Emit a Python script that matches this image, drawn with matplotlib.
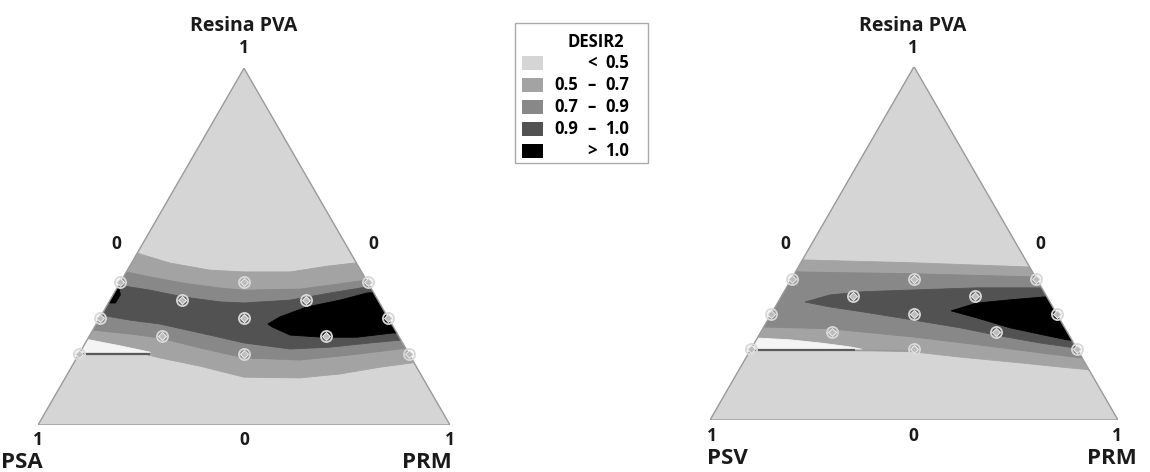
import numpy as np
import matplotlib
matplotlib.use("Agg")
import matplotlib.pyplot as plt
from matplotlib.patches import Polygon, Rectangle

plt.rcParams['font.family'] = ['Open Sans', 'DejaVu Sans']

# ---------------- data ----------------
# design points (mixture compositions, constrained region 0.2 <= PVA <= 0.4)
design_pva = [0.40, 0.40, 0.40, 0.35, 0.35, 0.30, 0.30, 0.30, 0.25, 0.25, 0.20, 0.20, 0.20]
design_prm = [0.00, 0.30, 0.60, 0.175, 0.475, 0.00, 0.35, 0.70, 0.175, 0.575, 0.00, 0.40, 0.80]

legend_title = "DESIR2"
legend_low = ["", "0.5", "0.7", "0.9", ""]
legend_op = ["<", "\u2013", "\u2013", "\u2013", ">"]
legend_high = ["0.5", "0.7", "0.9", "1.0", "1.0"]
level_colors = ["#d5d5d5", "#a3a3a3", "#888888", "#525252", "#000000"]

# contour boundaries: (horizontal position along base, PVA)
# ---- left plot (PSA / PRM) ----
L_top_05 = [(0.199, 0.482), (0.240, 0.482), (0.320, 0.454), (0.417, 0.434), (0.500, 0.429),
            (0.612, 0.429), (0.701, 0.445), (0.769, 0.454), (0.830, 0.457)]
L_bot_05 = [(0.053, 0.202), (0.109, 0.202), (0.248, 0.202), (0.296, 0.188), (0.393, 0.165),
            (0.500, 0.134), (0.636, 0.132), (0.733, 0.143), (0.830, 0.162), (0.908, 0.174),
            (0.951, 0.182)]
L_top_07 = [(0.150, 0.434), (0.214, 0.429), (0.272, 0.415), (0.352, 0.398), (0.442, 0.384),
            (0.500, 0.378), (0.636, 0.381), (0.709, 0.392), (0.796, 0.406), (0.854, 0.412)]
L_bot_07 = [(0.078, 0.266), (0.133, 0.266), (0.223, 0.255), (0.296, 0.244), (0.393, 0.216),
            (0.500, 0.188), (0.636, 0.182), (0.757, 0.196), (0.879, 0.213), (0.927, 0.218)]
L_top_09 = [(0.150, 0.395), (0.194, 0.392), (0.272, 0.378), (0.352, 0.359), (0.442, 0.345),
            (0.500, 0.342), (0.612, 0.350), (0.709, 0.370), (0.799, 0.387), (0.854, 0.392)]
L_bot_09 = [(0.102, 0.308), (0.153, 0.308), (0.223, 0.294), (0.296, 0.283), (0.417, 0.252),
            (0.500, 0.230), (0.612, 0.213), (0.709, 0.218), (0.806, 0.230), (0.881, 0.238),
            (0.927, 0.241)]
L_black_a = [(0.558, 0.283), (0.587, 0.303), (0.653, 0.331), (0.733, 0.350), (0.799, 0.370),
             (0.879, 0.375), (0.903, 0.255), (0.862, 0.258), (0.774, 0.246), (0.692, 0.246),
             (0.612, 0.252), (0.568, 0.275)]
L_black_b = [(0.150, 0.389), (0.196, 0.384), (0.200, 0.365), (0.188, 0.342), (0.150, 0.342)]
L_white = [(0.078, 0.247), (0.114, 0.241), (0.150, 0.233), (0.199, 0.222), (0.248, 0.210),
           (0.272, 0.204), (0.272, 0.203), (0.078, 0.203)]
L_line = [(0.05, 0.200), (0.272, 0.200)]

# ---- right plot (PSV / PRM) ----
R_top_05 = [(0.172, 0.456), (0.228, 0.453), (0.498, 0.445), (0.784, 0.433), (0.858, 0.431)]
R_bot_05 = [(0.074, 0.198), (0.355, 0.198), (0.498, 0.193), (0.613, 0.178), (0.767, 0.161),
            (0.858, 0.150), (0.931, 0.142), (0.980, 0.136)]
R_top_07 = [(0.172, 0.422), (0.221, 0.419), (0.498, 0.414), (0.797, 0.405), (0.858, 0.405)]
R_bot_07 = [(0.074, 0.263), (0.135, 0.263), (0.294, 0.258), (0.498, 0.235), (0.662, 0.212),
            (0.809, 0.190), (0.907, 0.176), (0.956, 0.170)]
R_dark = [(0.233, 0.334), (0.294, 0.354), (0.375, 0.363), (0.498, 0.368), (0.654, 0.374),
          (0.801, 0.374), (0.858, 0.374), (0.956, 0.198), (0.895, 0.204), (0.809, 0.218),
          (0.711, 0.238), (0.613, 0.261), (0.498, 0.283), (0.375, 0.306), (0.294, 0.320)]
R_black = [(0.591, 0.309), (0.654, 0.331), (0.735, 0.340), (0.816, 0.348), (0.882, 0.351),
           (0.919, 0.221), (0.875, 0.227), (0.816, 0.241), (0.735, 0.261), (0.654, 0.289)]
R_white = [(0.074, 0.235), (0.115, 0.232), (0.196, 0.227), (0.270, 0.218), (0.343, 0.207),
           (0.373, 0.200), (0.074, 0.200)]
R_line_dark = [(0.05, 0.197), (0.355, 0.197)]
R_line_light = [(0.355, 0.197), (0.500, 0.196)]

H = np.sqrt(3) / 2


def to_xy(pts):
    a = np.asarray(pts, dtype=float)
    return np.column_stack([a[:, 0], a[:, 1] * H])


def band(upper, lower):
    return to_xy(list(upper) + list(lower)[::-1])


W, Hpx = 1150, 472
fig = plt.figure(figsize=(W / 100, Hpx / 100), dpi=100)


def make_ax(left, base, width):
    height = width * H
    ax = fig.add_axes([left / W, (Hpx - base) / Hpx, width / W, height / Hpx])
    ax.set_xlim(0, 1)
    ax.set_ylim(0, H)
    ax.axis('off')
    tri = Polygon([(0, 0), (1, 0), (0.5, H)], closed=True, facecolor=level_colors[0],
                  edgecolor='none', zorder=0)
    ax.add_patch(tri)
    return ax, tri


def add_region(ax, tri, xy, color, z=1):
    p = Polygon(xy, closed=True, facecolor=color, edgecolor=color, lw=0.6, zorder=z)
    ax.add_patch(p)
    p.set_clip_path(tri)


def add_line(ax, tri, pts, color, lw):
    xy = to_xy(pts)
    ln, = ax.plot(xy[:, 0], xy[:, 1], color=color, lw=lw, zorder=5, solid_capstyle='butt')
    ln.set_clip_path(tri)


def finish(ax):
    ax.plot([0, 1, 0.5, 0], [0, 0, H, 0], color='#9a9a9a', lw=1.0, zorder=6)
    pva = np.asarray(design_pva)
    prm = np.asarray(design_prm)
    x = prm + pva / 2
    y = pva * H
    ax.plot(x, y, linestyle='none', marker='o', ms=8, mfc='none', mec='#d8d8d8',
            mew=1.3, zorder=7, clip_on=False)
    ax.plot(x, y, linestyle='none', marker='D', ms=4.5, mfc='#bcbcbc', mec='#e8e8e8',
            mew=0.8, zorder=8, clip_on=False)


# ---------- left ternary ----------
axL, triL = make_ax(38, 425, 412)
add_region(axL, triL, band(L_top_05, L_bot_05), level_colors[1], 1)
add_region(axL, triL, band(L_top_07, L_bot_07), level_colors[2], 2)
add_region(axL, triL, band(L_top_09, L_bot_09), level_colors[3], 3)
add_region(axL, triL, to_xy(L_black_a), level_colors[4], 4)
add_region(axL, triL, to_xy(L_black_b), level_colors[4], 4)
add_region(axL, triL, to_xy(L_white), '#f4f4f4', 4)
add_line(axL, triL, L_line, '#5a5a5a', 1.6)
finish(axL)

# ---------- right ternary ----------
axR, triR = make_ax(710, 420, 408)
add_region(axR, triR, band(R_top_05, R_bot_05), level_colors[1], 1)
add_region(axR, triR, band(R_top_07, R_bot_07), level_colors[2], 2)
add_region(axR, triR, to_xy(R_dark), level_colors[3], 3)
add_region(axR, triR, to_xy(R_black), level_colors[4], 4)
add_region(axR, triR, to_xy(R_white), '#f4f4f4', 4)
add_line(axR, triR, R_line_dark, '#5a5a5a', 1.6)
add_line(axR, triR, R_line_light, '#9a9a9a', 1.2)
finish(axR)


# ---------- labels (pixel positions) ----------
def ftext(x, y, s, size, ha='center', va='center'):
    fig.text(x / W, 1 - y / Hpx, s, fontsize=size, fontweight='bold', ha=ha, va=va,
             color='#1a1a1a')


for cx, l0, r0 in [(244, 116, 373), (913, 785, 1040)]:
    ftext(cx, 26, "Resina PVA", 14)
    ftext(cx, 48, "1", 12.5)
    ftext(l0, 244, "0", 12.5)
    ftext(r0, 244, "0", 12.5)

# bottom labels
ftext(38, 440, "1", 12.5)
ftext(244, 440, "0", 12.5)
ftext(450, 440, "1", 12.5)
ftext(1, 463, "PSA", 16, ha='left')
ftext(452, 463, "PRM", 16, ha='right')
ftext(712, 436, "1", 12.5)
ftext(913, 436, "0", 12.5)
ftext(1117, 436, "1", 12.5)
ftext(707, 458, "PSV", 16, ha='left')
ftext(1137, 458, "PRM", 16, ha='right')

# ---------- legend ----------
axLeg = fig.add_axes([0, 0, 1, 1])
axLeg.set_xlim(0, W)
axLeg.set_ylim(Hpx, 0)
axLeg.axis('off')
axLeg.patch.set_alpha(0)
axLeg.add_patch(Rectangle((515, 23), 133, 140, facecolor='white', edgecolor='#aaaaaa', lw=1))
axLeg.text(596, 42, legend_title, fontsize=12, fontweight='bold', ha='center', va='center')
row_y = [63, 85, 107, 129, 151]
for i, yy in enumerate(row_y):
    axLeg.add_patch(Rectangle((522, yy - 7), 21, 14, facecolor=level_colors[i], edgecolor='none'))
    if legend_low[i]:
        axLeg.text(578, yy, legend_low[i], fontsize=12, fontweight='bold', ha='right', va='center')
    axLeg.text(592, yy, legend_op[i], fontsize=12, fontweight='bold', ha='center', va='center')
    axLeg.text(605, yy, legend_high[i], fontsize=12, fontweight='bold', ha='left', va='center')

fig.savefig("out.png", dpi=100)
